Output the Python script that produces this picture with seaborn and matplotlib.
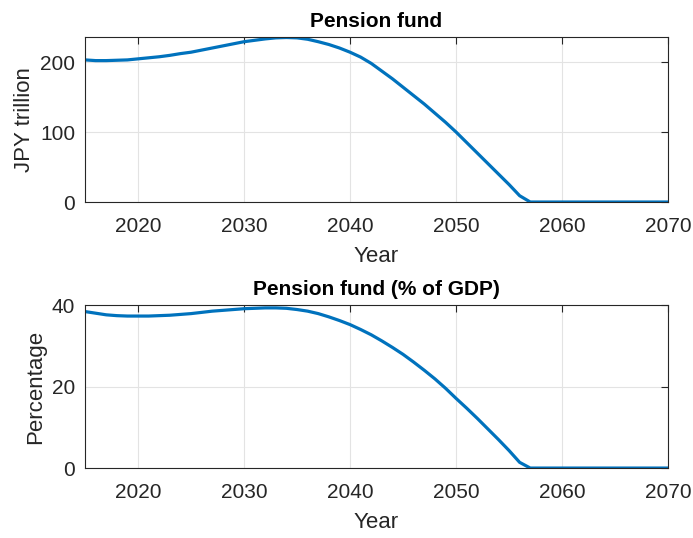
import numpy as np
import pandas as pd
import matplotlib
matplotlib.use('Agg')
import matplotlib.pyplot as plt
import seaborn as sns

# values
years = list(range(2015, 2071))

fund_jpy = [203, 202, 202, 202.5, 203, 204.5, 206, 207.5, 209.5, 212,
            214, 217, 220, 223, 226, 229, 231, 233, 234.5, 235,
            234.5, 232.5, 229, 225, 220, 214, 207, 198, 187, 176,
            164, 152, 140, 127, 114, 100, 85, 70, 55, 40,
            25, 9, 0] + [0] * 13

fund_gdp = [38.4, 38.0, 37.6, 37.4, 37.3, 37.3, 37.3, 37.4, 37.5, 37.7,
            37.9, 38.2, 38.5, 38.7, 38.9, 39.1, 39.2, 39.3, 39.3, 39.2,
            38.9, 38.5, 37.9, 37.1, 36.2, 35.2, 34.0, 32.7, 31.2, 29.6,
            27.9, 26.0, 24.0, 21.9, 19.6, 17.1, 14.7, 12.2, 9.6, 7.0,
            4.3, 1.4, 0] + [0] * 13

df = pd.DataFrame({'Year': years, 'jpy': fund_jpy, 'gdp': fund_gdp})

sns.set_style('white')
plt.rcParams['font.family'] = ['Liberation Sans', 'DejaVu Sans']

line_color = '#0072BD'
fig = plt.figure(figsize=(6.93, 5.38), dpi=100)
ax1 = fig.add_axes([0.1227, 0.6245, 0.8413, 0.3067])
ax2 = fig.add_axes([0.1227, 0.130, 0.8413, 0.303])

panels = [
    (ax1, 'jpy', 'Pension fund', 'JPY trillion', (0, 235.7), [0, 100, 200]),
    (ax2, 'gdp', 'Pension fund (% of GDP)', 'Percentage', (0, 40), [0, 20, 40]),
]

for ax, col, title, ylabel, ylim, yticks in panels:
    sns.lineplot(data=df, x='Year', y=col, ax=ax, color=line_color, linewidth=2.3)
    ax.set_xlim(2015, 2070)
    ax.set_ylim(*ylim)
    ax.set_xticks([2020, 2030, 2040, 2050, 2060, 2070])
    ax.set_yticks(yticks)
    ax.grid(True, color='#e3e3e3', linewidth=0.8)
    ax.set_axisbelow(True)
    for s in ax.spines.values():
        s.set_visible(True)
        s.set_color('#262626')
        s.set_linewidth(0.8)
    ax.tick_params(direction='in', top=True, right=True, length=5,
                   width=0.8, color='#262626', labelsize=15, labelcolor='#262626')
    ax.tick_params(axis='x', pad=11)
    ax.tick_params(axis='y', pad=7)
    ax.set_title(title, fontsize=15, fontweight='bold', color='black', pad=7)
    ax.set_xlabel('Year', fontsize=16, color='#262626', labelpad=7)
    ax.set_ylabel(ylabel, fontsize=16, color='#262626', labelpad=4)

fig.savefig('out.png', dpi=100)
